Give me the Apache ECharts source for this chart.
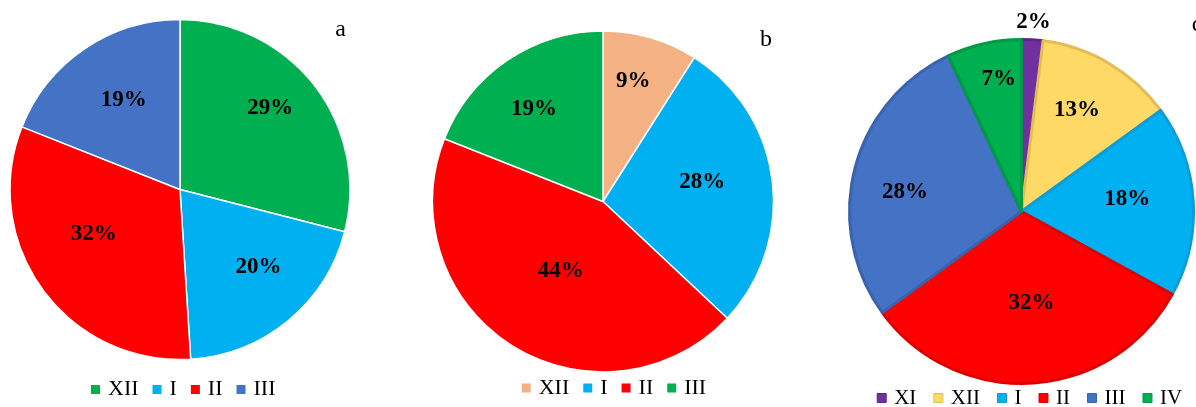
<!DOCTYPE html>
<html>
<head>
<meta charset="utf-8">
<script src="https://cdn.jsdelivr.net/npm/echarts@6/dist/echarts.min.js"></script>
<style>
  html, body { margin: 0; padding: 0; background: #fff; overflow: hidden; }
  #wrap { position: relative; width: 1196px; height: 407px; }
  .panel { position: absolute; top: 0; height: 407px; }
</style>
</head>
<body>
<div id="wrap">
  <div id="pa" class="panel" style="left:0;width:400px"></div>
  <div id="pb" class="panel" style="left:400px;width:420px"></div>
  <div id="pc" class="panel" style="left:820px;width:376px"></div>
</div>
<script>
// Monthly shares (%) for the three panels
const monthsA = ['XII', 'I', 'II', 'III'];
const sharesA = [29, 20, 32, 19];

const monthsB = ['XII', 'I', 'II', 'III'];
const sharesB = [9, 28, 44, 19];

const monthsC = ['XI', 'XII', 'I', 'II', 'III', 'IV'];
const sharesC = [2, 13, 18, 32, 28, 7];

const panelLetters = ['a', 'b', 'c'];

const SERIF = '"Liberation Serif", "Times New Roman", serif';

function drawPanel(el, months, shares, cfg) {
  const chart = echarts.init(el, null, { renderer: 'canvas' });
  const nudge = (p) => {
    const o = cfg.labelNudge[p.dataIndex] || [0, 0];
    return { dx: o[0], dy: o[1] };
  };
  const mainData = months.map((m, i) => ({
    name: m,
    value: shares[i],
    itemStyle: {
      color: cfg.colors[i],
      borderColor: cfg.borderColors ? cfg.borderColors[i] : '#ffffff'
    }
  }));
  const labelStyle = {
    position: 'inside',
    formatter: '{c}%',
    color: '#000',
    fontFamily: SERIF,
    fontWeight: 'bold',
    fontSize: 23
  };
  const series = [
    {
      type: 'pie',
      center: cfg.center,
      radius: cfg.radius,
      startAngle: 90,
      clockwise: true,
      silent: true,
      animation: false,
      label: { show: false },
      labelLine: { show: false },
      itemStyle: { borderWidth: cfg.borderWidth },
      data: mainData
    },
    {
      // transparent ring that carries the value labels
      type: 'pie',
      center: cfg.center,
      radius: [cfg.labelDist - 20, cfg.labelDist + 20],
      startAngle: 90,
      clockwise: true,
      silent: true,
      animation: false,
      itemStyle: { color: 'rgba(0,0,0,0)', borderWidth: 0 },
      label: Object.assign({ show: true }, labelStyle),
      labelLine: { show: false },
      labelLayout: nudge,
      data: months.map((m, i) => ({
        name: m, value: shares[i],
        label: { show: i !== cfg.outsideIdx }
      }))
    }
  ];
  if (cfg.outsideIdx !== undefined) {
    series.push({
      // label of the narrow slice sits just outside the rim
      type: 'pie',
      center: cfg.center,
      radius: [cfg.outsideDist - 10, cfg.outsideDist + 10],
      startAngle: 90,
      clockwise: true,
      silent: true,
      animation: false,
      itemStyle: { color: 'rgba(0,0,0,0)', borderWidth: 0 },
      label: Object.assign({ show: true }, labelStyle),
      labelLine: { show: false },
      data: months.map((m, i) => ({
        name: m, value: shares[i],
        label: { show: i === cfg.outsideIdx }
      }))
    });
  }
  chart.setOption({
    backgroundColor: '#fff',
    animation: false,
    legend: {
      data: months,
      left: cfg.legendLeft,
      top: cfg.legendTop,
      padding: 0,
      itemGap: cfg.legendGap,
      itemWidth: 9,
      itemHeight: 9,
      icon: 'rect',
      selectedMode: false,
      itemStyle: { borderWidth: cfg.legendBorder },
      textStyle: {
        fontFamily: SERIF,
        fontSize: cfg.legendFont,
        color: '#000',
        lineHeight: 22,
        padding: [0, 0, 0, 3]
      }
    },
    graphic: [{
      type: 'text',
      x: cfg.letterPos[0],
      y: cfg.letterPos[1],
      silent: true,
      style: {
        text: cfg.letter,
        font: '24px ' + SERIF,
        fill: '#000',
        align: 'center',
        verticalAlign: 'middle'
      }
    }],
    series: series
  });
}

drawPanel(document.getElementById('pa'), monthsA, sharesA, {
  colors: ['#00B050', '#00B0F0', '#FF0000', '#4472C4'],
  borderWidth: 1.5,
  center: [180, 189.5],
  radius: 170,
  labelDist: 106,
  labelNudge: [[4, -15], [9, -6], [2, -20], [5, 1]],
  legendLeft: 91,
  legendTop: 378.5,
  legendGap: 14,
  legendFont: 22,
  legendBorder: 0,
  letter: panelLetters[0],
  letterPos: [340.5, 30]
});

drawPanel(document.getElementById('pb'), monthsB, sharesB, {
  colors: ['#F4B183', '#00B0F0', '#FF0000', '#00B050'],
  borderWidth: 1.5,
  center: [203, 201.5],
  radius: 170.5,
  labelDist: 102,
  labelNudge: [[1, -20], [-5, -6], [14, -19], [-10, -6]],
  legendLeft: 121.7,
  legendTop: 377,
  legendGap: 14,
  legendFont: 22,
  legendBorder: 0,
  letter: panelLetters[1],
  letterPos: [366, 39.5]
});

drawPanel(document.getElementById('pc'), monthsC, sharesC, {
  colors: ['#7030A0', '#FFD966', '#00B0F0', '#FF0000', '#4472C4', '#00B050'],
  borderColors: ['#5C2788', '#E2BD55', '#0A9ED8', '#DD0000', '#3A63AE', '#009A45'],
  borderWidth: 3,
  center: [201.5, 211.5],
  radius: 172,
  labelDist: 110,
  labelNudge: [[0, 0], [-2, -4], [-7, -5], [3, -21], [-7, 9], [2, -22]],
  outsideIdx: 0,
  outsideDist: 186.5,
  legendLeft: 56.7,
  legendTop: 387,
  legendGap: 17,
  legendFont: 21,
  legendBorder: 1,
  letter: panelLetters[2],
  letterPos: [377, 25]
});
</script>
</body>
</html>
